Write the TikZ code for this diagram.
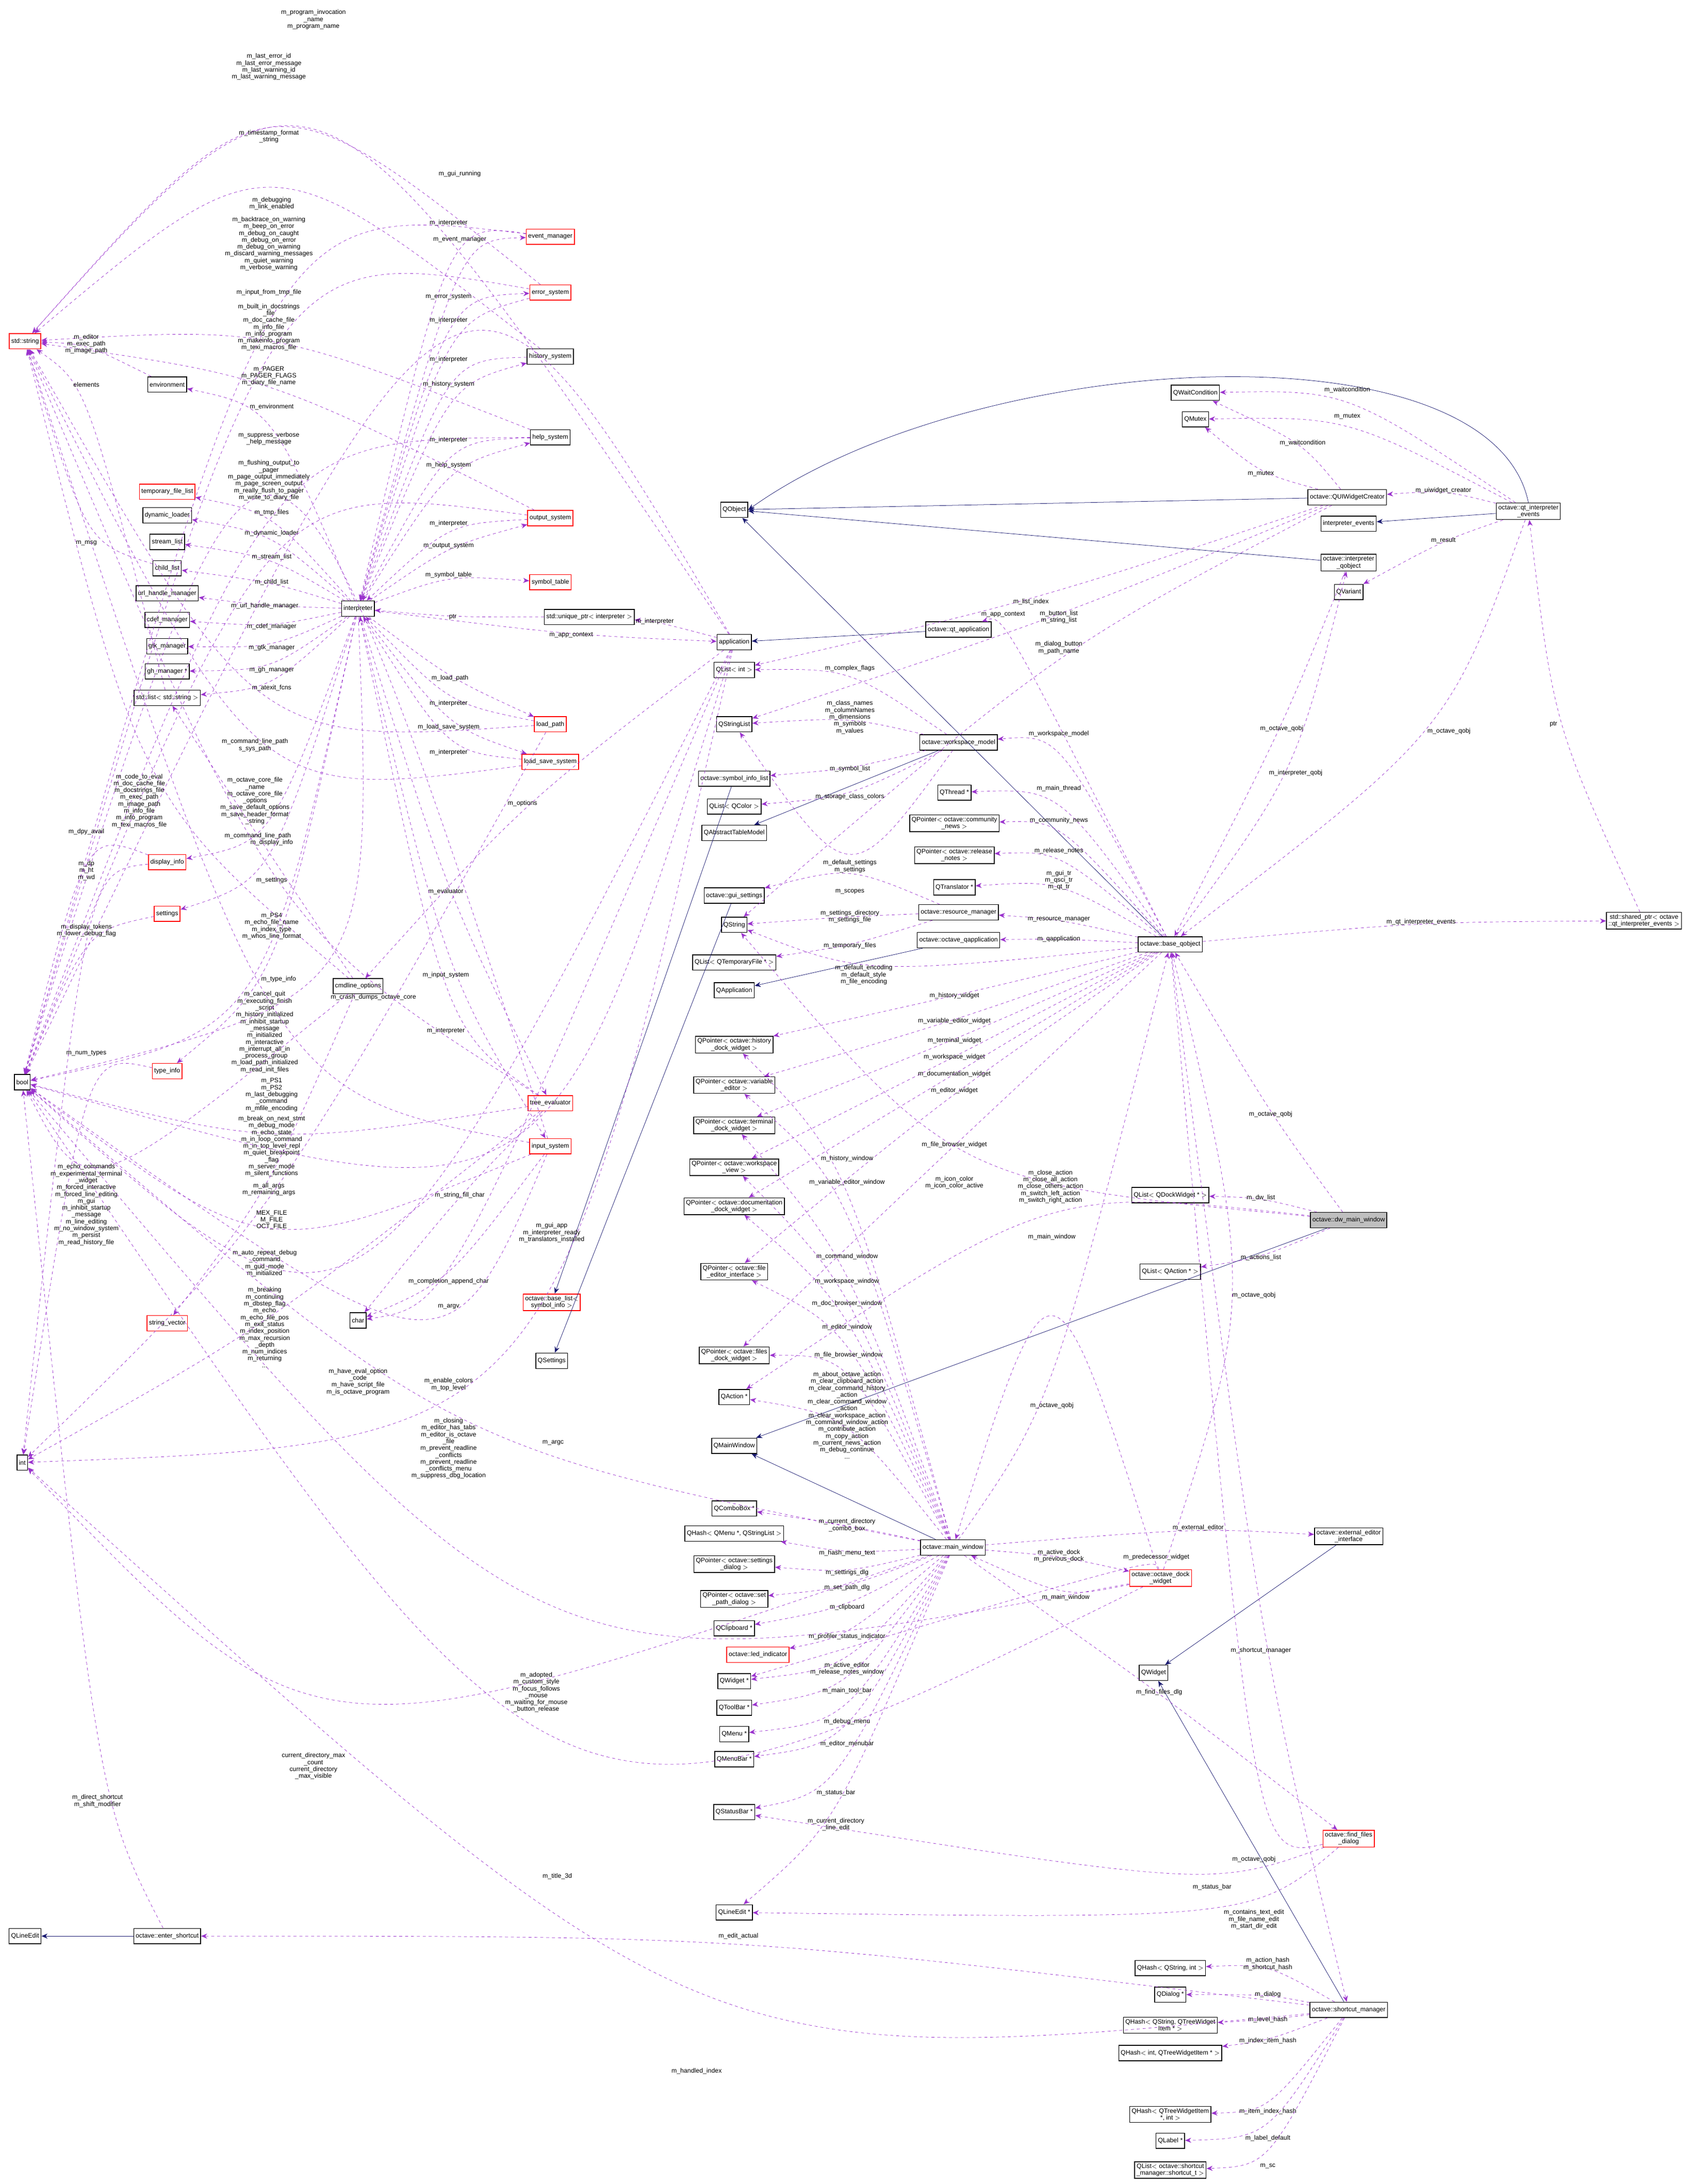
\documentclass[tikz,border=0pt]{standalone}
\usepackage{fontspec}
\setmainfont{Liberation Sans}
\usetikzlibrary{arrows.meta}
\definecolor{edgepurple}{HTML}{9A32CD}
\definecolor{edgenavy}{HTML}{191970}
\def\fs{\fontsize{6.5}{7}\selectfont}
\tikzset{
    cls/.style = {
        draw, thick, rectangle, fill=white, font=\fs, align=center, inner sep=2pt, minimum height=0.55cm
    },
    redcls/.style = {cls, draw=red},
    subj/.style = {cls, fill=black!25},
    memb/.style = {draw=edgepurple, dashed, thin, -{Stealth[length=2.2mm, width=1.8mm]}},
    inh/.style = {draw=edgenavy, thin, -{Stealth[length=2.2mm, width=1.8mm]}},
    lbl/.style = {font=\fs, align=center, inner sep=0pt},
}
\begin{document}
\begin{tikzpicture}[x=0.05cm, y=-0.05cm]
    \useasboundingbox (0,0) rectangle (1213,1568);
    % left column
    \node[redcls] (str) at (18,245) {std::string};
    \node[cls] (bool) at (16,777) {bool};
    \node[cls] (int) at (16,1050) {int};
    \node[cls] (qlineedit) at (18,1390) {QLineEdit};
    \node[cls] (env) at (120,276) {environment};
    \node[redcls] (tmpf) at (120,353) {temporary\_file\_list};
    \node[cls] (dynl) at (120,370) {dynamic\_loader};
    \node[cls] (strl) at (120,389) {stream\_list};
    \node[cls] (chl) at (120,408) {child\_list};
    \node[cls] (urlh) at (120,426) {url\_handle\_manager};
    \node[cls] (cdef) at (120,445) {cdef\_manager};
    \node[cls] (gtk) at (120,464) {gtk\_manager};
    \node[cls] (ghm) at (120,482) {gh\_manager *};
    \node[cls] (slist) at (120,501) {std::list$<$ std::string $>$};
    \node[redcls] (dpy) at (120,619) {display\_info};
    \node[redcls] (sett) at (120,656) {settings};
    \node[redcls] (tinfo) at (120,769) {type\_info};
    \node[redcls] (svec) at (120,950) {string\_vector};
    \node[cls] (ents) at (120,1390) {octave::enter\_shortcut};
    % interpreter column
    \node[cls] (interp) at (257,437) {interpreter};
    \node[cls] (cmdl) at (257,708) {cmdline\_options};
    \node[cls] (chr) at (257,948) {char};
    \node[redcls] (evm) at (395,170) {event\_manager};
    \node[redcls] (errs) at (395,210) {error\_system};
    \node[cls] (hist) at (395,256) {history\_system};
    \node[cls] (help) at (395,314) {help\_system};
    \node[redcls] (outs) at (395,372) {output\_system};
    \node[redcls] (symt) at (395,418) {symbol\_table};
    \node[cls] (uptr) at (423,443) {std::unique\_ptr$<$ interpreter $>$};
    \node[redcls] (lpath) at (395,520) {load\_path};
    \node[redcls] (lss) at (395,547) {load\_save\_system};
    \node[redcls] (tev) at (395,792) {tree\_evaluator};
    \node[redcls] (inps) at (395,823) {input\_system};
    \node[redcls] (blist) at (396,935) {octave::base\_list$<$\\symbol\_info $>$};
    \node[cls] (qset) at (396,977) {QSettings};
    % middle column
    \node[cls] (qobj) at (527,366) {QObject};
    \node[cls] (app) at (527,461) {application};
    \node[cls] (qlint) at (527,481) {QList$<$ int $>$};
    \node[cls] (qsl) at (527,520) {QStringList};
    \node[cls] (sil) at (527,559) {octave::symbol\_info\_list};
    \node[cls] (qlcol) at (527,579) {QList$<$ QColor $>$};
    \node[cls] (qatm) at (527,598) {QAbstractTableModel};
    \node[cls] (gset) at (527,643) {octave::gui\_settings};
    \node[cls] (qstr) at (527,664) {QString};
    \node[cls] (qltmp) at (527,691) {QList$<$ QTemporaryFile * $>$};
    \node[cls] (qapp) at (527,711) {QApplication};
    \node[cls] (phist) at (527,750) {QPointer$<$ octave::history\\\_dock\_widget $>$};
    \node[cls] (pvar) at (527,779) {QPointer$<$ octave::variable\\\_editor $>$};
    \node[cls] (pterm) at (527,808) {QPointer$<$ octave::terminal\\\_dock\_widget $>$};
    \node[cls] (pws) at (527,838) {QPointer$<$ octave::workspace\\\_view $>$};
    \node[cls] (pdoc) at (527,866) {QPointer$<$ octave::documentation\\\_dock\_widget $>$};
    \node[cls] (pfed) at (527,913) {QPointer$<$ octave::file\\\_editor\_interface $>$};
    \node[cls] (pfdw) at (527,973) {QPointer$<$ octave::files\\\_dock\_widget $>$};
    \node[cls] (qact) at (527,1003) {QAction *};
    \node[cls] (qmw) at (527,1038) {QMainWindow};
    \node[cls] (qcb) at (527,1083) {QComboBox *};
    \node[cls] (qhms) at (527,1101) {QHash$<$ QMenu *, QStringList $>$};
    \node[cls] (psd) at (527,1123) {QPointer$<$ octave::settings\\\_dialog $>$};
    \node[cls] (pspd) at (527,1148) {QPointer$<$ octave::set\\\_path\_dialog $>$};
    \node[cls] (qclip) at (527,1169) {QClipboard *};
    \node[redcls] (led) at (544,1188) {octave::led\_indicator};
    \node[cls] (qw) at (527,1207) {QWidget *};
    \node[cls] (qtb) at (527,1226) {QToolBar *};
    \node[cls] (qmenu) at (527,1245) {QMenu *};
    \node[cls] (qmb) at (527,1263) {QMenuBar *};
    \node[cls] (qsb) at (527,1301) {QStatusBar *};
    \node[cls] (qle) at (527,1373) {QLineEdit *};
    % right middle column
    \node[cls] (qtapp) at (688,452) {octave::qt\_application};
    \node[cls] (wsm) at (688,533) {octave::workspace\_model};
    \node[cls] (qthr) at (685,569) {QThread *};
    \node[cls] (pnews) at (685,591) {QPointer$<$ octave::community\\\_news $>$};
    \node[cls] (prel) at (685,614) {QPointer$<$ octave::release\\\_notes $>$};
    \node[cls] (qtr) at (685,637) {QTranslator *};
    \node[cls] (resm) at (688,655) {octave::resource\_manager};
    \node[cls] (oqapp) at (688,675) {octave::octave\_qapplication};
    \node[cls] (mainw) at (684,1111) {octave::main\_window};
    \node[redcls] (dock) at (833,1133) {octave::octave\_dock\\\_widget};
    \node[cls] (bqo) at (840,678) {octave::base\_qobject};
    \node[cls] (qldw) at (840,858) {QList$<$ QDockWidget * $>$};
    \node[cls] (qlact) at (840,913) {QList$<$ QAction * $>$};
    \node[cls] (qwid) at (828,1201) {QWidget};
    % right column
    \node[cls] (qwc) at (858,282) {QWaitCondition};
    \node[cls] (qmut) at (858,301) {QMutex};
    \node[cls] (quiw) at (967,357) {octave::QUIWidgetCreator};
    \node[cls] (ievt) at (968,376) {interpreter\_events};
    \node[cls] (iqo) at (968,404) {octave::interpreter\\\_qobject};
    \node[cls] (qvar) at (968,425) {QVariant};
    \node[cls] (qtie) at (1097,367) {octave::qt\_interpreter\\\_events};
    \node[cls] (shp) at (1180,661) {std::shared\_ptr$<$ octave\\::qt\_interpreter\_events $>$};
    \node[subj] (dwm) at (968,876) {octave::dw\_main\_window};
    \node[cls] (extei) at (968,1103) {octave::external\_editor\\\_interface};
    \node[redcls] (ffd) at (968,1320) {octave::find\_files\\\_dialog};
    \node[cls] (qhsi) at (840,1413) {QHash$<$ QString, int $>$};
    \node[cls] (qdlg) at (840,1432) {QDialog *};
    \node[cls] (qhst) at (840,1454) {QHash$<$ QString, QTreeWidget\\Item * $>$};
    \node[cls] (qhit) at (840,1474) {QHash$<$ int, QTreeWidgetItem * $>$};
    \node[cls] (scm) at (968,1443) {octave::shortcut\_manager};
    \node[cls] (qhti) at (840,1518) {QHash$<$ QTreeWidgetItem\\*, int $>$};
    \node[cls] (qlab) at (840,1537) {QLabel *};
    \node[cls] (qlsc) at (840,1558) {QList$<$ octave::shortcut\\\_manager::shortcut\_t $>$};

    % inheritance
    \foreach \s/\t in {qtapp/app, quiw/qobj, iqo/qobj, bqo/qobj, qtie/ievt, wsm/qatm, oqapp/qapp,
        mainw/qmw, dwm/qmw, extei/qwid, scm/qwid, ents/qlineedit, sil/blist, gset/qset}
        \draw[inh] (\s) -- (\t);
    \draw[inh] (qtie.north) .. controls (1070,230) and (700,250) .. (qobj.east);

    % members
    \foreach \s/\t/\p/\l [count=\i] in {
        interp/evm/{(330,172)}/{m\_event\_manager},
        interp/errs/{(322,213)}/{m\_error\_system},
        interp/hist/{(322,276)}/{m\_history\_system},
        interp/help/{(322,334)}/{m\_help\_system},
        interp/outs/{(322,392)}/{m\_output\_system},
        interp/symt/{(322,413)}/{m\_symbol\_table},
        uptr/interp/{(325,443)}/{ptr},
        app/uptr/{(470,446)}/{m\_interpreter},
        interp/app/{(410,456)}/{m\_app\_context},
        interp/lpath/{(323,487)}/{m\_load\_path},
        interp/lss/{(322,522)}/{m\_load\_save\_system},
        interp/tev/{(320,640)}/{m\_evaluator},
        interp/inps/{(320,700)}/{m\_input\_system},
        evm/interp/{(322,160)}/{m\_interpreter},
        errs/interp/{(322,230)}/{m\_interpreter},
        hist/interp/{(322,258)}/{m\_interpreter},
        help/interp/{(322,316)}/{m\_interpreter},
        outs/interp/{(322,376)}/{m\_interpreter},
        lpath/interp/{(322,505)}/{m\_interpreter},
        lss/interp/{(322,540)}/{m\_interpreter},
        tev/interp/{(320,740)}/{m\_interpreter},
        interp/env/{(195,292)}/{m\_environment},
        interp/tmpf/{(195,368)}/{m\_tmp\_files},
        interp/dynl/{(195,383)}/{m\_dynamic\_loader},
        interp/strl/{(195,400)}/{m\_stream\_list},
        interp/chl/{(195,418)}/{m\_child\_list},
        interp/urlh/{(190,435)}/{m\_url\_handle\_manager},
        interp/cdef/{(195,450)}/{m\_cdef\_manager},
        interp/gtk/{(195,465)}/{m\_gtk\_manager},
        interp/ghm/{(195,481)}/{m\_gh\_manager},
        interp/slist/{(195,494)}/{m\_atexit\_fcns},
        interp/dpy/{(195,605)}/{m\_display\_info},
        interp/sett/{(195,632)}/{m\_settings},
        interp/tinfo/{(200,703)}/{m\_type\_info},
        app/cmdl/{(375,577)}/{m\_options},
        app/str/{(225,14)}/{m\_program\_invocation\\\_name\\m\_program\_name},
        errs/str/{(193,48)}/{m\_last\_error\_id\\m\_last\_error\_message\\m\_last\_warning\_id\\m\_last\_warning\_message},
        hist/str/{(193,98)}/{m\_timestamp\_format\\\_string},
        evm/bool/{(195,146)}/{m\_debugging\\m\_link\_enabled},
        errs/bool/{(193,175)}/{m\_backtrace\_on\_warning\\m\_beep\_on\_error\\m\_debug\_on\_caught\\m\_debug\_on\_error\\m\_debug\_on\_warning\\m\_discard\_warning\_messages\\m\_quiet\_warning\\m\_verbose\_warning},
        inps/bool/{(193,210)}/{m\_input\_from\_tmp\_file},
        help/str/{(193,235)}/{m\_built\_in\_docstrings\\\_file\\m\_doc\_cache\_file\\m\_info\_file\\m\_info\_program\\m\_makeinfo\_program\\m\_texi\_macros\_file},
        outs/str/{(193,270)}/{m\_PAGER\\m\_PAGER\_FLAGS\\m\_diary\_file\_name},
        help/bool/{(193,315)}/{m\_suppress\_verbose\\\_help\_message},
        outs/bool/{(193,345)}/{m\_flushing\_output\_to\\\_pager\\m\_page\_output\_immediately\\m\_page\_screen\_output\\m\_really\_flush\_to\_pager\\m\_write\_to\_diary\_file},
        app/bool/{(330,125)}/{m\_gui\_running},
        env/str/{(62,247)}/{m\_editor\\m\_exec\_path\\m\_image\_path},
        slist/str/{(62,276)}/{elements},
        chl/str/{(62,390)}/{m\_msg},
        lpath/str/{(183,535)}/{m\_command\_line\_path\\s\_sys\_path},
        lss/str/{(183,575)}/{m\_octave\_core\_file\\\_name\\m\_octave\_core\_file\\\_options\\m\_save\_default\_options\\m\_save\_header\_format\\\_string},
        cmdl/str/{(100,575)}/{m\_code\_to\_eval\\m\_doc\_cache\_file\\m\_docstrings\_file\\m\_exec\_path\\m\_image\_path\\m\_info\_file\\m\_info\_program\\m\_texi\_macros\_file},
        cmdl/slist/{(185,600)}/{m\_command\_line\_path},
        dpy/bool/{(62,597)}/{m\_dpy\_avail},
        dpy/int/{(62,625)}/{m\_dp\\m\_ht\\m\_wd},
        sett/bool/{(62,668)}/{m\_display\_tokens\\m\_lower\_debug\_flag},
        tev/str/{(195,665)}/{m\_PS4\\m\_echo\_file\_name\\m\_index\_type\\m\_whos\_line\_format},
        interp/bool/{(190,741)}/{m\_cancel\_quit\\m\_executing\_finish\\\_script\\m\_history\_initialized\\m\_inhibit\_startup\\\_message\\m\_initialized\\m\_interactive\\m\_interrupt\_all\_in\\\_process\_group\\m\_load\_path\_initialized\\m\_read\_init\_files},
        interp/bool/{(268,716)}/{m\_crash\_dumps\_octave\_core},
        tinfo/int/{(62,756)}/{m\_num\_types},
        inps/str/{(195,786)}/{m\_PS1\\m\_PS2\\m\_last\_debugging\\\_command\\m\_mfile\_encoding},
        tev/bool/{(195,823)}/{m\_break\_on\_next\_stmt\\m\_debug\_mode\\m\_echo\_state\\m\_in\_loop\_command\\m\_in\_top\_level\_repl\\m\_quiet\_breakpoint\\\_flag\\m\_server\_mode\\m\_silent\_functions},
        cmdl/bool/{(62,865)}/{m\_echo\_commands\\m\_experimental\_terminal\\\_widget\\m\_forced\_interactive\\m\_forced\_line\_editing\\m\_gui\\m\_inhibit\_startup\\\_message\\m\_line\_editing\\m\_no\_window\_system\\m\_persist\\m\_read\_history\_file},
        cmdl/svec/{(193,854)}/{m\_all\_args\\m\_remaining\_args},
        lpath/int/{(195,876)}/{MEX\_FILE\\M\_FILE\\OCT\_FILE},
        tev/chr/{(330,858)}/{m\_string\_fill\_char},
        app/bool/{(396,885)}/{m\_gui\_app\\m\_interpreter\_ready\\m\_translators\_installed},
        inps/bool/{(190,907)}/{m\_auto\_repeat\_debug\\\_command\\m\_gud\_mode\\m\_initialized},
        tev/int/{(190,953)}/{m\_breaking\\m\_continuing\\m\_dbstep\_flag\\m\_echo\\m\_echo\_file\_pos\\m\_exit\_status\\m\_index\_position\\m\_max\_recursion\\\_depth\\m\_num\_indices\\m\_returning\\...},
        inps/chr/{(322,920)}/{m\_completion\_append\_char},
        app/chr/{(322,938)}/{m\_argv},
        app/bool/{(257,992)}/{m\_have\_eval\_option\\\_code\\m\_have\_script\_file\\m\_is\_octave\_program},
        inps/bool/{(322,994)}/{m\_enable\_colors\\m\_top\_level},
        mainw/bool/{(322,1040)}/{m\_closing\\m\_editor\_has\_tabs\\m\_editor\_is\_octave\\\_file\\m\_prevent\_readline\\\_conflicts\\m\_prevent\_readline\\\_conflicts\_menu\\m\_suppress\_dbg\_location},
        app/int/{(397,1036)}/{m\_argc},
        dock/bool/{(385,1215)}/{m\_adopted\\m\_custom\_style\\m\_focus\_follows\\\_mouse\\m\_waiting\_for\_mouse\\\_button\_release},
        mainw/int/{(225,1268)}/{current\_directory\_max\\\_count\\current\_directory\\\_max\_visible},
        dock/bool/{(400,1347)}/{m\_title\_3d},
        ents/bool/{(70,1293)}/{m\_direct\_shortcut\\m\_shift\_modifier},
        scm/ents/{(530,1390)}/{m\_edit\_actual},
        scm/int/{(500,1487)}/{m\_handled\_index},
        qtie/quiw/{(1036,352)}/{m\_uiwidget\_creator},
        qtie/qvar/{(1036,388)}/{m\_result},
        qtie/qwc/{(967,280)}/{m\_waitcondition},
        qtie/qmut/{(967,299)}/{m\_mutex},
        quiw/qwc/{(935,318)}/{m\_waitcondition},
        quiw/qmut/{(905,340)}/{m\_mutex},
        shp/qtie/{(1115,520)}/{ptr},
        bqo/shp/{(1020,662)}/{m\_qt\_interpreter\_events},
        qtie/bqo/{(1040,525)}/{m\_octave\_qobj},
        iqo/bqo/{(920,523)}/{m\_octave\_qobj},
        bqo/iqo/{(930,555)}/{m\_interpreter\_qobj},
        quiw/qlint/{(740,432)}/{m\_list\_index},
        quiw/qsl/{(760,443)}/{m\_button\_list\\m\_string\_list},
        quiw/qstr/{(760,465)}/{m\_dialog\_button\\m\_path\_name},
        bqo/qtapp/{(720,441)}/{m\_app\_context},
        bqo/wsm/{(760,527)}/{m\_workspace\_model},
        bqo/qthr/{(760,566)}/{m\_main\_thread},
        bqo/pnews/{(760,589)}/{m\_community\_news},
        bqo/prel/{(760,611)}/{m\_release\_notes},
        bqo/qtr/{(760,632)}/{m\_gui\_tr\\m\_qsci\_tr\\m\_qt\_tr},
        bqo/resm/{(760,660)}/{m\_resource\_manager},
        bqo/oqapp/{(760,674)}/{m\_qapplication},
        wsm/qlint/{(610,480)}/{m\_complex\_flags},
        wsm/qsl/{(610,515)}/{m\_class\_names\\m\_columnNames\\m\_dimensions\\m\_symbols\\m\_values},
        wsm/sil/{(610,552)}/{m\_symbol\_list},
        wsm/qlcol/{(610,572)}/{m\_storage\_class\_colors},
        resm/gset/{(610,622)}/{m\_default\_settings\\m\_settings},
        wsm/qsl/{(610,640)}/{m\_scopes},
        resm/qstr/{(610,658)}/{m\_settings\_directory\\m\_settings\_file},
        resm/qltmp/{(610,679)}/{m\_temporary\_files},
        bqo/qstr/{(620,700)}/{m\_default\_encoding\\m\_default\_style\\m\_file\_encoding},
        bqo/phist/{(685,715)}/{m\_history\_widget},
        bqo/pvar/{(685,733)}/{m\_variable\_editor\_widget},
        bqo/pterm/{(685,747)}/{m\_terminal\_widget},
        bqo/pws/{(685,759)}/{m\_workspace\_widget},
        bqo/pdoc/{(685,771)}/{m\_documentation\_widget},
        bqo/pfed/{(685,783)}/{m\_editor\_widget},
        bqo/pfdw/{(685,822)}/{m\_file\_browser\_widget},
        mainw/phist/{(608,832)}/{m\_history\_window},
        mainw/pvar/{(608,849)}/{m\_variable\_editor\_window},
        mainw/pterm/{(608,902)}/{m\_command\_window},
        mainw/pws/{(608,920)}/{m\_workspace\_window},
        mainw/pdoc/{(608,936)}/{m\_doc\_browser\_window},
        mainw/pfed/{(608,953)}/{m\_editor\_window},
        mainw/pfdw/{(609,973)}/{m\_file\_browser\_window},
        mainw/qact/{(608,1016)}/{m\_about\_octave\_action\\m\_clear\_clipboard\_action\\m\_clear\_command\_history\\\_action\\m\_clear\_command\_window\\\_action\\m\_clear\_workspace\_action\\m\_command\_window\_action\\m\_contribute\_action\\m\_copy\_action\\m\_current\_news\_action\\m\_debug\_continue\\...},
        dwm/qstr/{(685,849)}/{m\_icon\_color\\m\_icon\_color\_active},
        dwm/qact/{(754,852)}/{m\_close\_action\\m\_close\_all\_action\\m\_close\_others\_action\\m\_switch\_left\_action\\m\_switch\_right\_action},
        dwm/qldw/{(905,860)}/{m\_dw\_list},
        dwm/qlact/{(905,903)}/{m\_actions\_list},
        dwm/bqo/{(912,800)}/{m\_octave\_qobj},
        dock/mainw/{(755,888)}/{m\_main\_window},
        dock/bqo/{(900,930)}/{m\_octave\_qobj},
        mainw/bqo/{(755,1009)}/{m\_octave\_qobj},
        mainw/extei/{(860,1097)}/{m\_external\_editor},
        mainw/dock/{(760,1117)}/{m\_active\_dock\\m\_previous\_dock},
        dock/mainw/{(765,1147)}/{m\_main\_window},
        dock/qw/{(830,1118)}/{m\_predecessor\_widget},
        bqo/scm/{(905,1185)}/{m\_shortcut\_manager},
        mainw/ffd/{(832,1215)}/{m\_find\_files\_dlg},
        ffd/bqo/{(900,1335)}/{m\_octave\_qobj},
        ffd/qsb/{(870,1355)}/{m\_status\_bar},
        ffd/qle/{(900,1378)}/{m\_contains\_text\_edit\\m\_file\_name\_edit\\m\_start\_dir\_edit},
        mainw/qcb/{(608,1095)}/{m\_current\_directory\\\_combo\_box},
        mainw/qhms/{(608,1115)}/{m\_hash\_menu\_text},
        mainw/psd/{(608,1129)}/{m\_settings\_dlg},
        mainw/pspd/{(608,1140)}/{m\_set\_path\_dlg},
        mainw/qclip/{(608,1154)}/{m\_clipboard},
        mainw/led/{(608,1175)}/{m\_profiler\_status\_indicator},
        mainw/qw/{(608,1198)}/{m\_active\_editor\\m\_release\_notes\_window},
        mainw/qtb/{(608,1214)}/{m\_main\_tool\_bar},
        mainw/qmenu/{(608,1236)}/{m\_debug\_menu},
        mainw/qmb/{(608,1252)}/{m\_editor\_menubar},
        mainw/qsb/{(600,1287)}/{m\_status\_bar},
        mainw/qle/{(600,1310)}/{m\_current\_directory\\\_line\_edit},
        scm/qhsi/{(910,1410)}/{m\_action\_hash\\m\_shortcut\_hash},
        scm/qdlg/{(910,1432)}/{m\_dialog},
        scm/qhst/{(910,1450)}/{m\_level\_hash},
        scm/qhit/{(910,1465)}/{m\_index\_item\_hash},
        scm/qhti/{(910,1516)}/{m\_item\_index\_hash},
        scm/qlab/{(910,1535)}/{m\_label\_default},
        scm/qlsc/{(910,1555)}/{m\_sc}%
    }{
        \draw[memb] (\s) .. controls \p .. (\t);
        \node[lbl] (lbl\i) at \p {\l};
    }
\end{tikzpicture}
\end{document}
